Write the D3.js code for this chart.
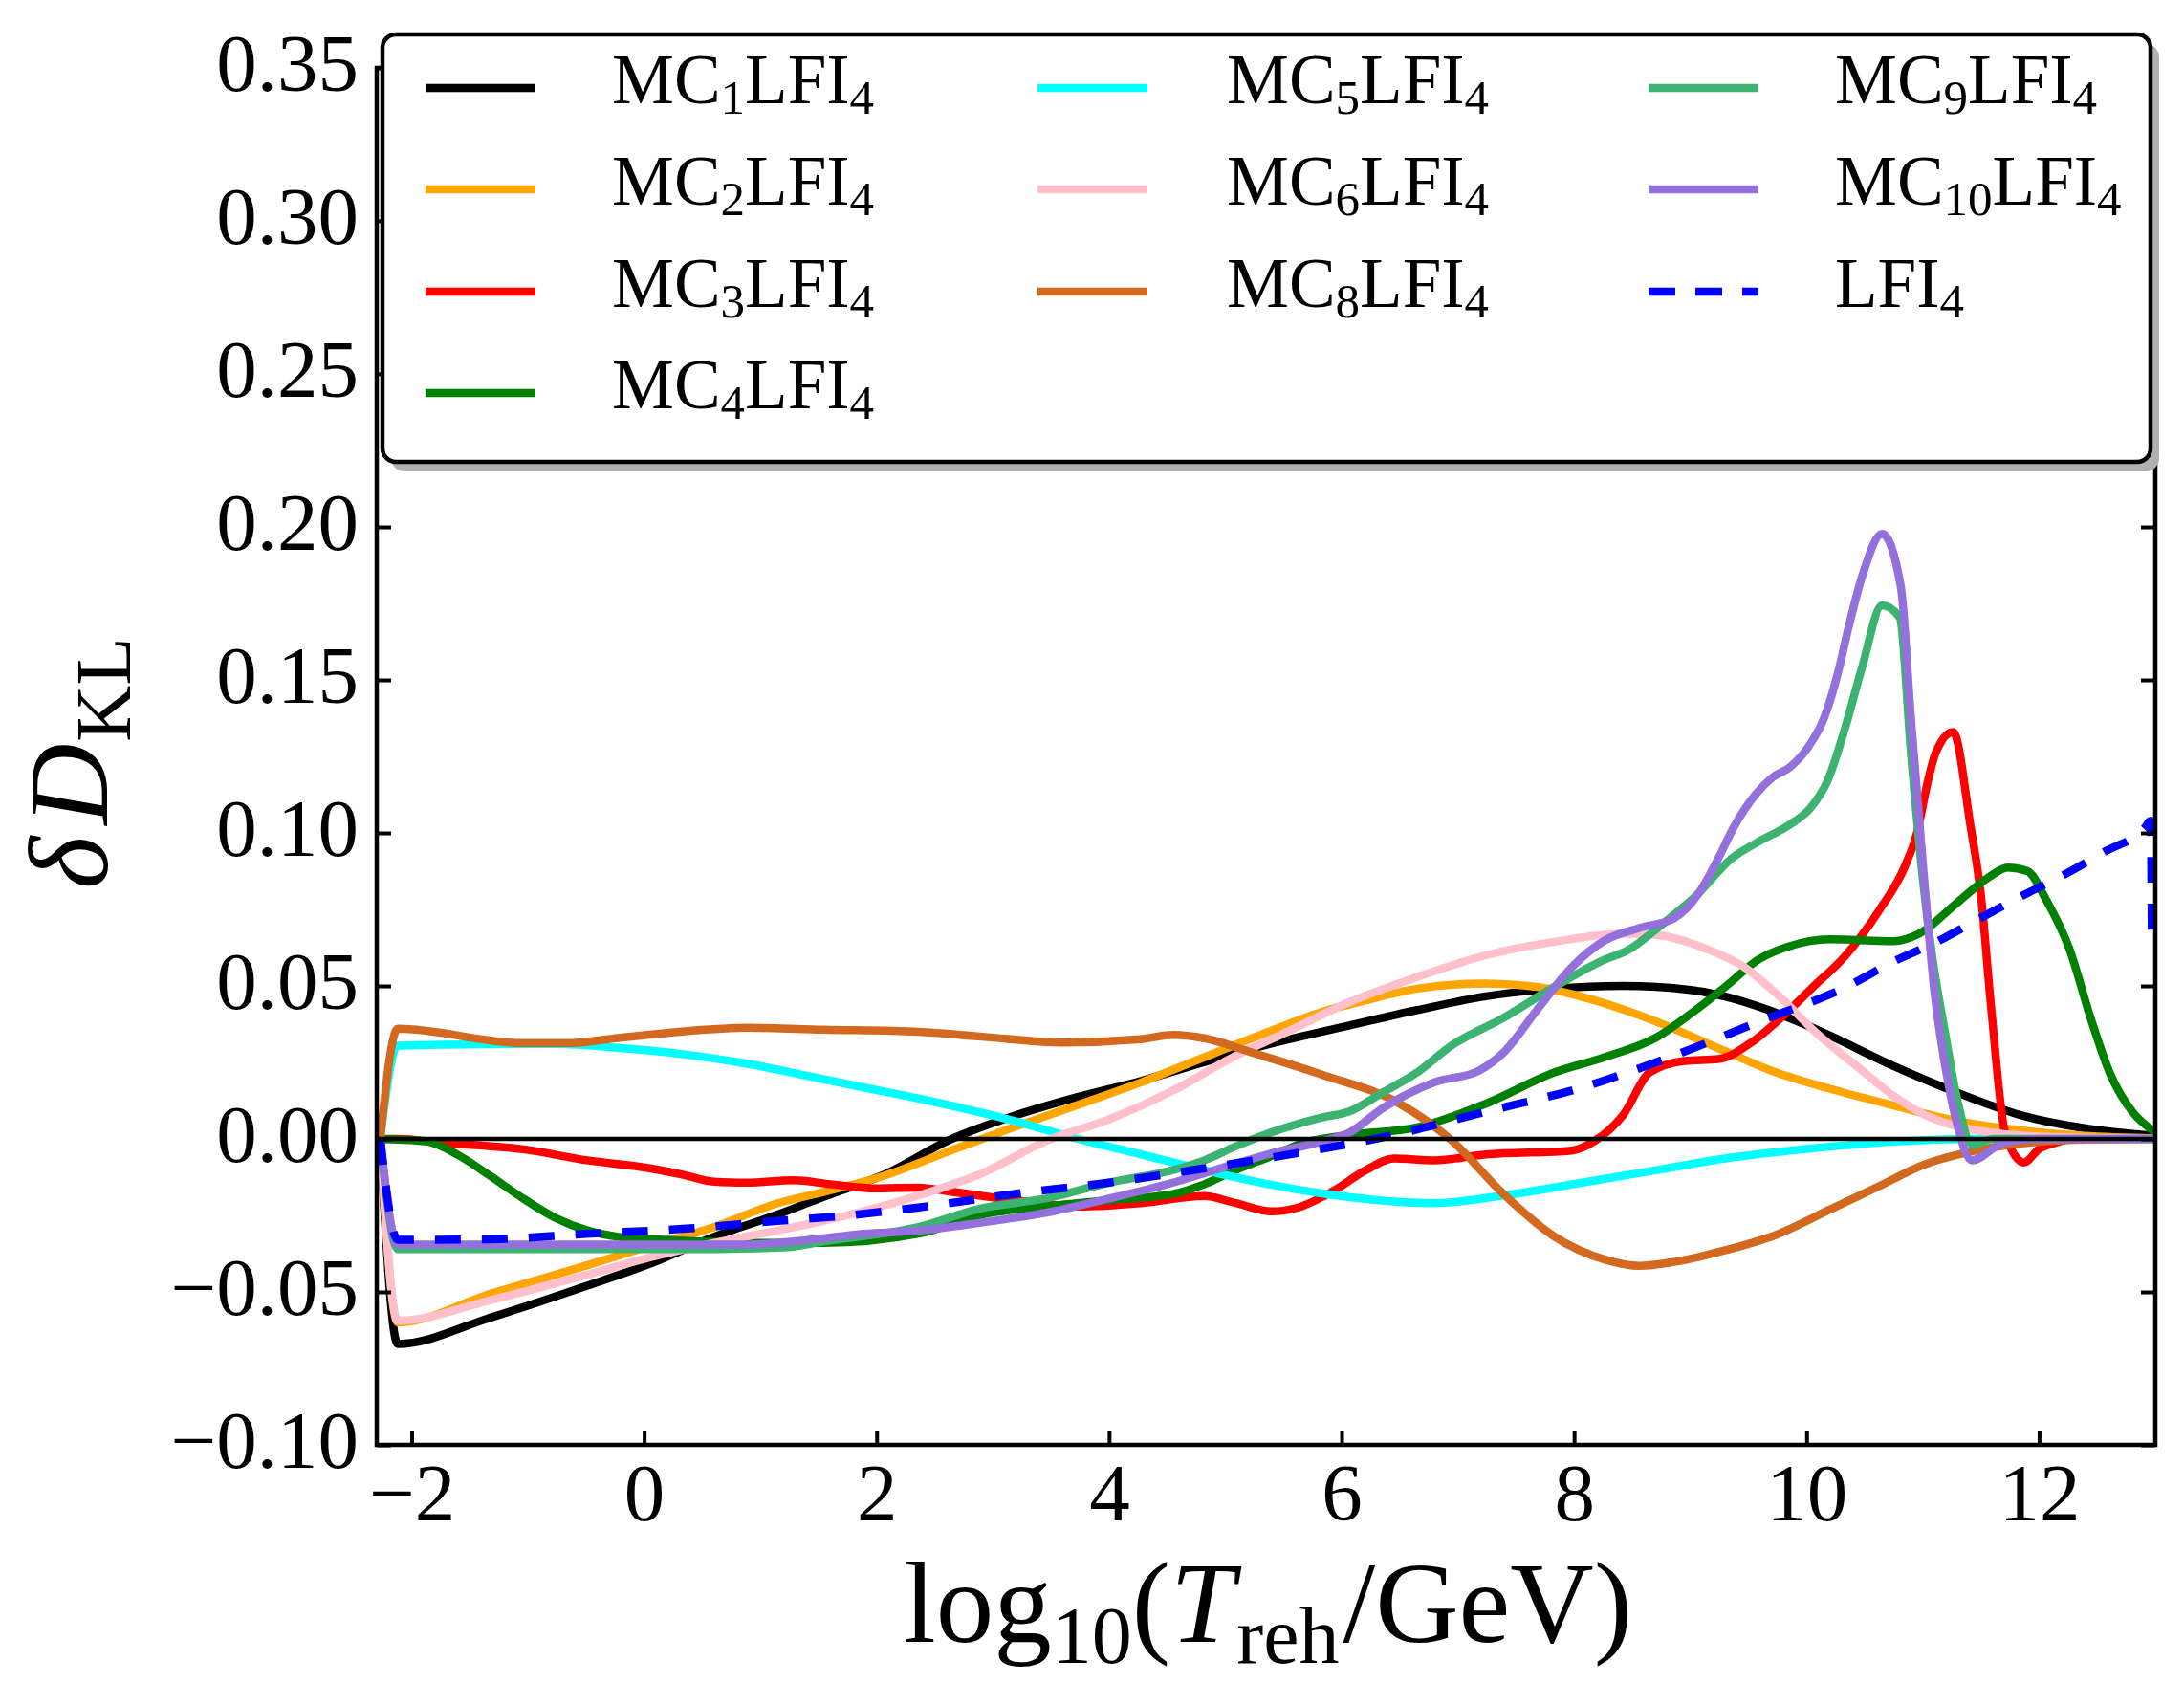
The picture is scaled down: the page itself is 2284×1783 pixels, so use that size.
<!DOCTYPE html>
<html><head><meta charset="utf-8">
<script src="https://cdn.jsdelivr.net/npm/d3@7"></script>
<style>html,body{margin:0;padding:0;background:#fff;} svg{display:block;font-family:"Liberation Serif","DejaVu Serif",serif;}</style>
</head><body>
<svg id="chart" width="2284" height="1783"></svg>
<script>
// ---------- data ----------
const xTicks = [-2, 0, 2, 4, 6, 8, 10, 12];
const yTicks = [-0.10, -0.05, 0.00, 0.05, 0.10, 0.15, 0.20, 0.25, 0.30, 0.35];
const xDomain = [-2.3, 13];
const yDomain = [-0.10, 0.35];

const seriesNames = ["MC1LFI4","MC2LFI4","MC3LFI4","MC4LFI4","MC5LFI4","MC6LFI4","MC8LFI4","MC9LFI4","MC10LFI4","LFI4"];
const mcIndex = ["1","2","3","4","5","6","8","9","10",""];

const mc1 = [[-2.27,0],[-2.12,-0.067],[-1.32,-0.0584],[-0.49,-0.048],[0.05,-0.0408],[0.6,-0.032],[1.15,-0.0247],[1.54,-0.019],[2.09,-0.0112],[2.63,-0.0003],[3.18,0.0075],[3.73,0.0137],[4.27,0.0189],[4.82,0.0251],[5.4,0.0312],[6.06,0.037],[6.65,0.0421],[7.24,0.0466],[7.83,0.0491],[8.42,0.050],[9.0,0.0487],[9.3,0.0465],[9.65,0.0424],[10.1,0.0355],[10.75,0.0238],[11.29,0.0152],[11.84,0.0078],[12.39,0.0035],[13.0,0.0010]];
const mc2 = [[-2.27,0],[-2.12,-0.060],[-1.32,-0.0506],[-0.49,-0.0413],[0.05,-0.035],[0.6,-0.0288],[1.15,-0.021],[1.54,-0.0174],[2.09,-0.0117],[2.63,-0.0039],[3.18,0.0038],[3.73,0.0111],[4.27,0.0184],[4.82,0.0267],[5.37,0.035],[5.83,0.0415],[6.2,0.0452],[6.65,0.0491],[7.24,0.0508],[7.68,0.0497],[8.12,0.0459],[8.71,0.0383],[9.3,0.0287],[9.74,0.0217],[10.2,0.0164],[10.75,0.0109],[11.29,0.0059],[11.84,0.0028],[12.39,0.001],[13.0,0.0002]];
const mc3 = [[-2.27,0],[-2.12,0],[-1.73,-0.0013],[-1.04,-0.0034],[-0.49,-0.007],[0.05,-0.0096],[0.33,-0.0117],[0.6,-0.0140],[0.88,-0.0143],[1.29,-0.0135],[1.6,-0.0148],[2.0,-0.0162],[2.36,-0.0159],[2.63,-0.0172],[3.18,-0.020],[3.73,-0.0221],[4.27,-0.021],[4.82,-0.0187],[5.09,-0.021],[5.4,-0.0237],[5.62,-0.0225],[5.92,-0.0172],[6.21,-0.0102],[6.45,-0.0064],[6.8,-0.0070],[7.24,-0.0051],[7.98,-0.0038],[8.18,-0.0006],[8.42,0.0077],[8.65,0.0217],[8.95,0.0255],[9.24,0.0261],[9.54,0.0319],[9.79,0.0399],[10.06,0.0498],[10.33,0.0597],[10.63,0.075],[10.84,0.0886],[10.95,0.100],[11.05,0.118],[11.11,0.1261],[11.26,0.133],[11.41,0.1023],[11.5,0.0795],[11.59,0.042],[11.71,0.0016],[11.87,-0.0077],[12.0,-0.0033],[12.12,-0.0015],[12.3,0],[13.0,0]];
const mc4 = [[-2.27,0],[-2.12,-0.0002],[-1.87,-0.0008],[-1.59,-0.0055],[-1.32,-0.0122],[-1.04,-0.0195],[-0.77,-0.0257],[-0.49,-0.0299],[-0.22,-0.032],[0.19,-0.033],[1.0,-0.034],[1.54,-0.034],[2.36,-0.031],[2.91,-0.0247],[3.45,-0.0221],[4.0,-0.020],[4.55,-0.018],[4.82,-0.0148],[5.09,-0.0102],[5.37,-0.006],[5.7,-0.001],[6.06,0.0013],[6.65,0.0038],[7.24,0.0115],[7.83,0.0217],[8.27,0.0268],[8.71,0.0332],[9.0,0.0408],[9.3,0.0497],[9.59,0.0587],[9.84,0.0628],[10.2,0.0652],[10.75,0.0646],[10.97,0.0671],[11.29,0.077],[11.57,0.0856],[11.73,0.0887],[11.9,0.0875],[12.06,0.0782],[12.26,0.0622],[12.45,0.0387],[12.61,0.0214],[12.8,0.009],[13.0,0.0022]];
const mc5 = [[-2.27,0],[-2.12,0.0305],[-0.77,0.031],[-0.22,0.0298],[0.33,0.0277],[0.88,0.0246],[1.43,0.0204],[1.89,0.0168],[2.36,0.0132],[3.18,0.0059],[3.73,0.0],[4.27,-0.005],[4.82,-0.0102],[5.37,-0.0148],[5.83,-0.0178],[6.8,-0.021],[7.39,-0.0185],[8.12,-0.014],[8.71,-0.0102],[9.3,-0.0064],[10.0,-0.0033],[10.75,-0.0009],[11.5,0],[13.0,0]];
const mc6 = [[-2.27,0],[-2.12,-0.0594],[-1.32,-0.0527],[-0.49,-0.0444],[0.05,-0.0387],[0.6,-0.034],[1.15,-0.0299],[1.54,-0.0268],[2.36,-0.0185],[2.91,-0.0112],[3.45,-0.0008],[4.0,0.0064],[4.55,0.0158],[5.09,0.0272],[5.5,0.0344],[6.06,0.0446],[6.65,0.0529],[7.24,0.060],[7.83,0.0644],[8.42,0.067],[8.71,0.0666],[9.15,0.0619],[9.45,0.0565],[9.74,0.0475],[10.09,0.0344],[10.47,0.0226],[10.75,0.014],[11.02,0.0078],[11.29,0.0041],[11.57,0.0022],[12.12,0.0006],[13.0,0]];
const mc8 = [[-2.27,0],[-2.12,0.036],[-1.04,0.0313],[-0.66,0.0313],[-0.22,0.033],[0.88,0.0363],[1.54,0.0357],[2.36,0.035],[2.91,0.0334],[3.59,0.0315],[4.27,0.0326],[4.55,0.034],[4.82,0.0329],[5.23,0.0282],[5.83,0.021],[6.5,0.0115],[6.95,-0.0006],[7.39,-0.0179],[7.83,-0.0319],[8.27,-0.0395],[8.56,-0.0415],[8.86,-0.0402],[9.3,-0.0364],[9.74,-0.0313],[10.2,-0.0231],[10.61,-0.0157],[11.02,-0.0083],[11.43,-0.004],[11.84,-0.0015],[12.3,-0.0003],[13.0,0]];
const mc9 = [[-2.27,0],[-2.12,-0.036],[-1.0,-0.036],[0.5,-0.036],[1.2,-0.0355],[1.54,-0.0335],[2.36,-0.0288],[2.91,-0.0226],[3.45,-0.0195],[4.0,-0.0143],[4.55,-0.0102],[4.82,-0.007],[5.09,-0.0024],[5.37,0.0018],[5.83,0.007],[6.06,0.0089],[6.36,0.0153],[6.65,0.0217],[6.95,0.0306],[7.39,0.0395],[7.83,0.0497],[8.27,0.0587],[8.45,0.0614],[8.75,0.0699],[9.05,0.0795],[9.35,0.0915],[9.59,0.0972],[9.86,0.1028],[10.03,0.108],[10.18,0.117],[10.33,0.1341],[10.48,0.1545],[10.65,0.1744],[10.8,0.1705],[10.9,0.125],[11.0,0.085],[11.08,0.06],[11.19,0.035],[11.29,0.014],[11.43,-0.002],[11.6,0],[13.0,0]];
const mc10 = [[-2.27,0],[-2.12,-0.0345],[0.88,-0.0345],[1.43,-0.033],[1.89,-0.031],[2.36,-0.030],[2.91,-0.0273],[3.45,-0.0242],[4.0,-0.0195],[4.55,-0.0143],[5.09,-0.0081],[5.37,-0.005],[5.83,-0.0008],[6.06,0.0019],[6.36,0.0102],[6.8,0.0185],[7.18,0.0223],[7.39,0.0281],[7.68,0.0421],[7.98,0.0561],[8.27,0.065],[8.56,0.0689],[8.86,0.0721],[9.08,0.0807],[9.23,0.0909],[9.38,0.1023],[9.56,0.1125],[9.71,0.1182],[9.86,0.1216],[10.0,0.1273],[10.15,0.1375],[10.27,0.1523],[10.36,0.167],[10.48,0.1841],[10.65,0.1977],[10.81,0.1807],[10.9,0.1364],[11.0,0.09],[11.1,0.048],[11.22,0.018],[11.3,0.004],[11.42,-0.007],[11.7,-0.0012],[12.0,0],[13.0,0]];
const lfi4 = [[-2.27,0],[-2.12,-0.033],[-1.32,-0.0328],[-0.49,-0.031],[0.33,-0.0294],[1.15,-0.0268],[1.7,-0.0252],[2.36,-0.0224],[3.18,-0.018],[4.0,-0.0143],[4.82,-0.0096],[5.64,-0.0045],[6.45,0.0013],[7.24,0.0089],[8.05,0.0166],[8.83,0.0268],[9.59,0.0383],[10.36,0.050],[10.75,0.058],[11.11,0.0642],[11.47,0.0716],[11.92,0.0807],[12.2,0.086],[12.56,0.0938],[12.91,0.1017],[12.96,0.104],[12.97,0.066]];

const seriesData = [mc1, mc2, mc3, mc4, mc5, mc6, mc8, mc9, mc10, lfi4];
const colors = ["#000000","#FFA500","#FF0000","#008000","#00FFFF","#FFC0CB","#D2691E","#3CB371","#9370DB","#0000FF"];
const dashed = [false,false,false,false,false,false,false,false,false,true];

// ---------- layout ----------
const svg = d3.select("#chart");
const L = 394, R = 2254, T = 71, B = 1511;
const x = d3.scaleLinear().domain(xDomain).range([L, R]);
const y = d3.scaleLinear().domain(yDomain).range([B, T]);
const LW = 8.5;

svg.append("rect").attr("width", 2284).attr("height", 1783).attr("fill", "#fff");

svg.append("defs").append("clipPath").attr("id", "clip")
  .append("rect").attr("x", L).attr("y", T).attr("width", R - L).attr("height", B - T);

// lines
const line = d3.line().x(d => x(d[0])).y(d => y(d[1])).curve(d3.curveMonotoneX);
const gLines = svg.append("g").attr("clip-path", "url(#clip)");
seriesData.forEach((s, i) => {
  gLines.append("path").datum(s)
    .attr("d", line)
    .attr("fill", "none")
    .attr("stroke", colors[i])
    .attr("stroke-width", LW)
    .attr("stroke-linejoin", "round")
    .attr("stroke-linecap", "butt")
    .attr("stroke-dasharray", dashed[i] ? "27,22" : null);
});

// zero line
svg.append("line").attr("x1", L).attr("x2", R).attr("y1", y(0)).attr("y2", y(0))
  .attr("stroke", "#000").attr("stroke-width", 4.5);

// axes
const fmtY = d3.format(".2f");
const fmtX = d3.format("d");
const axB = svg.append("g").attr("transform", `translate(0,${B})`)
  .call(d3.axisBottom(x).tickValues(xTicks).tickFormat(fmtX).tickSizeInner(-15).tickSizeOuter(0));
const axT = svg.append("g").attr("transform", `translate(0,${T})`)
  .call(d3.axisTop(x).tickValues(xTicks).tickFormat("").tickSizeInner(-15).tickSizeOuter(0));
const axL = svg.append("g").attr("transform", `translate(${L},0)`)
  .call(d3.axisLeft(y).tickValues(yTicks).tickFormat(fmtY).tickSizeInner(-15).tickSizeOuter(0));
const axR = svg.append("g").attr("transform", `translate(${R},0)`)
  .call(d3.axisRight(y).tickValues(yTicks).tickFormat("").tickSizeInner(-15).tickSizeOuter(0));
axT.selectAll(".tick text").remove();
axR.selectAll(".tick text").remove();
[axB, axT, axL, axR].forEach(a => {
  a.attr("font-family", null).attr("font-size", null);
  a.select(".domain").remove();
  a.selectAll(".tick line").attr("stroke", "#000").attr("stroke-width", 4);
  a.selectAll("text").style("font-size", "85px").attr("fill", "#000");
});
axB.selectAll(".tick text").attr("y", 79).attr("dy", 0);
axL.selectAll(".tick text").attr("x", -19).attr("y", 23).attr("dy", 0);

// spines
svg.append("rect").attr("x", L).attr("y", T).attr("width", R - L).attr("height", B - T)
  .attr("fill", "none").attr("stroke", "#000").attr("stroke-width", 4.5);

// axis titles
const xl = svg.append("text").attr("x", (L + R) / 2 + 2).attr("y", 1717)
  .attr("text-anchor", "middle").style("font-size", "121px");
xl.append("tspan").text("log");
xl.append("tspan").attr("dy", 22).style("font-size", "84px").text("10");
xl.append("tspan").attr("dy", -22).text("(");
xl.append("tspan").style("font-style", "italic").text("T");
xl.append("tspan").attr("dy", 22).attr("dx", 2).style("font-size", "84px").text("reh");
xl.append("tspan").attr("dy", -22).attr("dx", 4).text("/GeV)");

const yl = svg.append("text").attr("transform", "translate(112,798) rotate(-90)")
  .attr("text-anchor", "middle").style("font-size", "118px");
yl.append("tspan").style("font-style", "italic").text("δ");
yl.append("tspan").attr("dx", 12).style("font-style", "italic").text("D");
yl.append("tspan").attr("dy", 24).attr("dx", 2).style("font-size", "82px").text("KL");

// legend
const leg = svg.append("g");
const lx = 400, ly = 36, lw = 1849, lh = 447;
leg.append("rect").attr("x", lx + 9).attr("y", ly + 10).attr("width", lw).attr("height", lh)
  .attr("rx", 14).attr("fill", "#b0b0b0");
leg.append("rect").attr("x", lx).attr("y", ly).attr("width", lw).attr("height", lh)
  .attr("rx", 14).attr("fill", "#fff").attr("stroke", "#000").attr("stroke-width", 4.5);

const colHandle = [445, 1085, 1724];
const colText = [640, 1283, 1919];
const rowY = [92, 198, 305, 411];
const rowsPerCol = [4, 3, 3];
let k = 0;
rowsPerCol.forEach((n, c) => {
  for (let r = 0; r < n; r++, k++) {
    const yy = rowY[r];
    leg.append("line").attr("x1", colHandle[c]).attr("x2", colHandle[c] + 115)
      .attr("y1", yy).attr("y2", yy)
      .attr("stroke", colors[k]).attr("stroke-width", LW)
      .attr("stroke-dasharray", dashed[k] ? "28,21" : null);
    const t = leg.append("text").attr("x", colText[c]).attr("y", yy + 16).style("font-size", "73px");
    if (mcIndex[k]) {
      t.append("tspan").text("MC");
      t.append("tspan").attr("dy", 11).style("font-size", "51px").text(mcIndex[k]);
      t.append("tspan").attr("dy", -11).text("LFI");
    } else {
      t.append("tspan").text("LFI");
    }
    t.append("tspan").attr("dy", 11).style("font-size", "51px").text("4");
  }
});
</script>
</body></html>
